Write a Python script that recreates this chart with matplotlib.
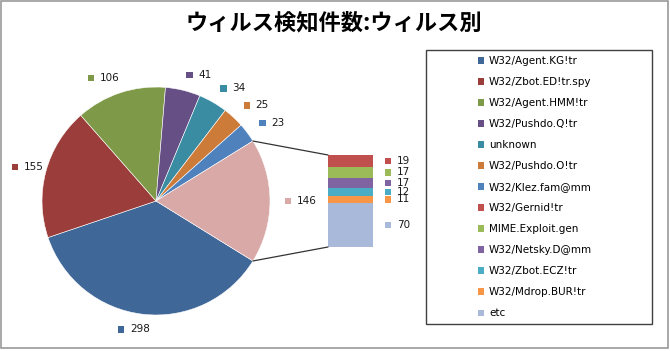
import numpy as np
import matplotlib
matplotlib.use("Agg")
import matplotlib.pyplot as plt
from matplotlib.patches import Patch, Rectangle, ConnectionPatch
from matplotlib.offsetbox import DrawingArea, TextArea, HPacker, AnnotationBbox

# pie part (last slice = sum of the bar part)
pie_names = ["W32/Agent.KG!tr", "W32/Zbot.ED!tr.spy", "W32/Agent.HMM!tr",
             "W32/Pushdo.Q!tr", "unknown", "W32/Pushdo.O!tr", "W32/Klez.fam@mm"]
pie_values = [298, 155, 106, 41, 34, 25, 23]
pie_colors = ["#3F6797", "#9B3D3A", "#7E9A48", "#664F85", "#3A8CA3", "#CC7B38", "#4F81BD"]
other_color = "#D9A9A8"

# bar part, top to bottom
bar_names = ["W32/Gernid!tr", "MIME.Exploit.gen", "W32/Netsky.D@mm",
             "W32/Zbot.ECZ!tr", "W32/Mdrop.BUR!tr", "etc"]
bar_values = [19, 17, 17, 12, 11, 70]
bar_colors = ["#C0504D", "#9BBB59", "#8064A2", "#4BACC6", "#F79646", "#A8B9DA"]

title = "ウィルス検知件数:ウィルス別"

W, H = 670, 351
fig = plt.figure(figsize=(W / 100, H / 100), dpi=100)
plt.rcParams['font.family'] = ['DejaVu Sans']


def key_label(ax, xy, color, text, align, offset=(0, 0)):
    da = DrawingArea(4.6, 4.6)
    da.add_artist(Rectangle((0, 0), 4.6, 4.6, fc=color, ec="none"))
    ta = TextArea(text, textprops=dict(size=7.5, color="#1a1a1a"))
    box = HPacker(children=[da, ta], align="center", pad=0, sep=4)
    ab = AnnotationBbox(box, xy, xybox=offset, xycoords="data",
                        boxcoords="offset points", box_alignment=align,
                        frameon=False, pad=0, annotation_clip=False)
    ax.add_artist(ab)


# pie
other = sum(bar_values)
values = pie_values + [other]
colors = pie_colors + [other_color]
total = sum(values)
start = -other / total * 180

cx, cy, r = 156, 150, 114
ax = fig.add_axes([(cx - r) / W, (cy - r) / H, 2 * r / W, 2 * r / H])
ax.pie(values, colors=colors, startangle=start, counterclock=False, radius=1,
       wedgeprops=dict(linewidth=0.4, edgecolor="white"))
ax.set_xlim(-1, 1)
ax.set_ylim(-1, 1)
ax.set_aspect("equal")
ax.axis("off")

ends = start - np.cumsum(values) / total * 360
mids = ends + np.array(values) / total * 180
for v, c, m in zip(values, colors, mids):
    t = np.deg2rad(m)
    rx = 1.13 if np.cos(t) > 0 else 1.02
    p = (rx * np.cos(t), 1.09 * np.sin(t))
    al = (0.5 - 0.5 * np.clip(5 * np.cos(t), -1, 1),
          0.5 - 0.5 * np.clip(1.2 * np.sin(t), -1, 1))
    key_label(ax, p, c, str(v), al)

# bar of the "other" slice
bx = fig.add_axes([328 / W, 104 / H, 45 / W, 92 / H])
bottom = 0
for v, c in zip(bar_values[::-1], bar_colors[::-1]):
    bx.bar(0, v, bottom=bottom, width=1, color=c)
    key_label(bx, (0.5, bottom + v / 2), c, str(v), (0, 0.5), offset=(8.5, 0))
    bottom += v
bx.set_xlim(-0.5, 0.5)
bx.set_ylim(0, other)
bx.axis("off")

# connector lines
for ang, yb in [(ends[-2], other), (start, 0)]:
    t = np.deg2rad(ang)
    con = ConnectionPatch(xyA=(np.cos(t), np.sin(t)), coordsA=ax.transData,
                          xyB=(-0.5, yb), coordsB=bx.transData,
                          color="#333333", lw=0.9)
    fig.add_artist(con)

# title
fig.text(0.4985, 1 - 23 / H, title, ha="center", va="center", fontsize=16,
         fontweight="bold", family=["Noto Sans CJK JP", "DejaVu Sans"])

# legend
handles = [Patch(fc=c, ec="none") for c in pie_colors + bar_colors]
fig.legend(handles, pie_names + bar_names, loc="upper left",
           bbox_to_anchor=(478 / W, 1 - 56 / H), frameon=False, fontsize=7.5,
           handlelength=0.6, handleheight=0.6, handletextpad=0.45,
           labelspacing=1.06, borderaxespad=0, borderpad=0)
fig.add_artist(Rectangle((426 / W, 27 / H), 226 / W, 274 / H, transform=fig.transFigure,
                         fill=False, ec="#404040", lw=1))

# outer frame
fig.add_artist(Rectangle((0.5 / W, 3 / H), 667 / W, 347.5 / H, transform=fig.transFigure,
                         fill=False, ec="#9a9a9a", lw=1.2))

fig.savefig("out.png", dpi=100)
